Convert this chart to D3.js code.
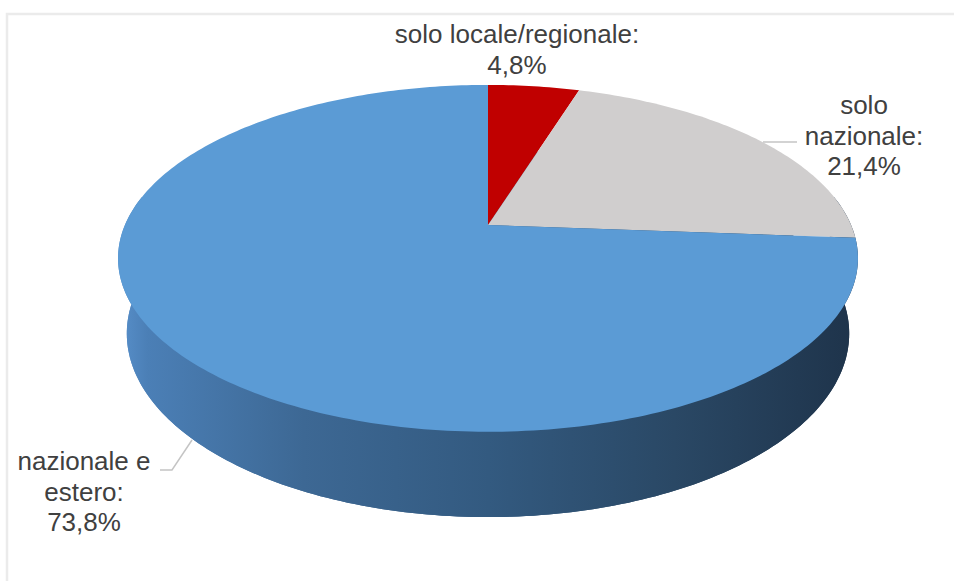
<!DOCTYPE html>
<html>
<head>
<meta charset="utf-8">
<script src="https://cdn.jsdelivr.net/npm/d3@7"></script>
<style>
  html, body { margin: 0; padding: 0; background: #ffffff; }
  svg { display: block; }
</style>
</head>
<body>
<svg id="chart" width="954" height="581"></svg>
<script>
// Data
const categories = ["solo locale/regionale", "solo nazionale", "nazionale e estero"];
const values = [4.8, 21.4, 73.8];
const labelLines = [["solo locale/regionale:"], ["solo", "nazionale:"], ["nazionale e", "estero:"]];
const colors = ["#c00000", "#d0cece", "#5b9bd5"];

const svg = d3.select("#chart");
const W = 954, H = 581;

// Frame
svg.append("path")
  .attr("d", "M7,581 V14 H954")
  .attr("fill", "none")
  .attr("stroke", "#ebebeb")
  .attr("stroke-width", 2.5);

// Perspective projection of a cylinder of unit radius (top face at y=0)
const cx = 488, cy = 225;
const f = 1677, D = 4.619, sinE = 0.46, cosE = 0.888, depthH = 0.235;
function proj(theta, r, level) {
  const X = r * Math.sin(theta), Z = r * Math.cos(theta), Y = level;
  const dep = D + Z * cosE - Y * sinE;
  const sy = Z * sinE + Y * cosE;
  return [cx + f * X / dep, cy - f * sy / dep];
}

const pie = d3.pie().sort(null).value(d => d).startAngle(0).endAngle(2 * Math.PI);
const arcs = pie(values);
const line = d3.line();
const fmt = d3.formatLocale({ decimal: ",", thousands: ".", grouping: [3], currency: ["", "€"] }).format(".1f");

// Side gradient, light on the left and dark on the right
const defs = svg.append("defs");
const grad = defs.append("linearGradient")
  .attr("id", "sideGrad")
  .attr("gradientUnits", "userSpaceOnUse")
  .attr("x1", 118).attr("x2", 860).attr("y1", 0).attr("y2", 0);
[[0, "#5890cb"], [0.04, "#4b7fb6"], [0.25, "#3d6894"], [0.5, "#335a80"], [0.75, "#2a4865"], [1, "#1e334a"]]
  .forEach(([o, c]) => grad.append("stop").attr("offset", o).attr("stop-color", c));

// Bottom face and visible side band
const steps = d3.range(0, 361, 1).map(d => d * Math.PI / 180);
svg.append("path")
  .attr("d", line(steps.map(t => proj(t, 1, -depthH))) + "Z")
  .attr("fill", "url(#sideGrad)");
const front = d3.range(80, 281, 1).map(d => d * Math.PI / 180);
svg.append("path")
  .attr("d", line(front.map(t => proj(t, 1, 0)).concat(front.slice().reverse().map(t => proj(t, 1, -depthH)))) + "Z")
  .attr("fill", "url(#sideGrad)");

// Top face slices
arcs.forEach((a, i) => {
  const n = Math.max(2, Math.ceil((a.endAngle - a.startAngle) * 180 / Math.PI));
  const pts = [proj(0, 0, 0)];
  for (let k = 0; k <= n; k++) {
    const t = a.startAngle + (a.endAngle - a.startAngle) * k / n;
    pts.push(proj(t, 1, 0));
  }
  svg.append("path")
    .attr("d", line(pts) + "Z")
    .attr("fill", colors[i]);
});

// Leader lines
const leaderColor = "#c4c4c4";
svg.append("path").attr("d", "M763,142 H797")
  .attr("fill", "none").attr("stroke", leaderColor).attr("stroke-width", 1.5);
svg.append("path").attr("d", "M160,470 H172 L192,440")
  .attr("fill", "none").attr("stroke", leaderColor).attr("stroke-width", 1.5);

// Labels
const labelPos = [
  { x: 517, y: 43 },
  { x: 864, y: 114 },
  { x: 84, y: 470 }
];
const lh = 30.5;
arcs.forEach((a, i) => {
  const lines = labelLines[i].concat([fmt(values[i]) + "%"]);
  const t = svg.append("text")
    .attr("x", labelPos[i].x)
    .attr("y", labelPos[i].y)
    .attr("text-anchor", "middle")
    .attr("font-family", "'Liberation Sans', Arial, sans-serif")
    .attr("font-size", 26)
    .attr("fill", "#404040");
  lines.forEach((s, k) => {
    t.append("tspan").attr("x", labelPos[i].x).attr("dy", k === 0 ? 0 : lh).text(s);
  });
});
</script>
</body>
</html>
